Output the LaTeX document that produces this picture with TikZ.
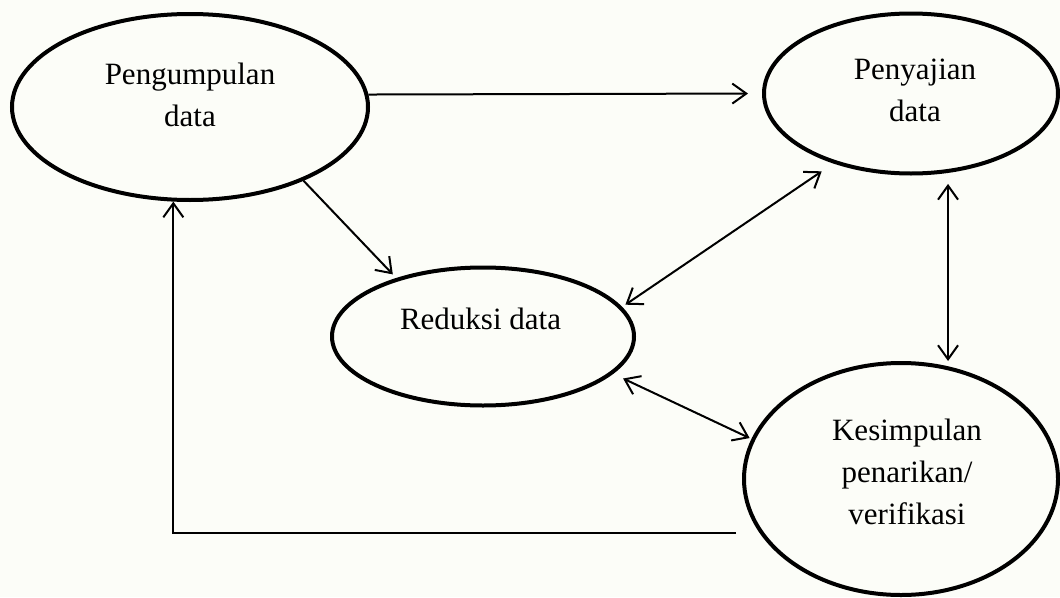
\documentclass[tikz,border=0pt]{standalone}
\usepackage{fontspec}
\setmainfont{Liberation Serif}
\usetikzlibrary{arrows.meta,shapes.geometric,calc}
\definecolor{bgc}{RGB}{252,253,248}
\begin{document}
\begin{tikzpicture}[x=1pt,y=-1pt,
  ell/.style={draw=black,ellipse,line width=4pt,inner sep=0pt},
  lbl/.style={align=center,inner sep=0pt,font=\fontsize{31}{42}\selectfont},
  tip/.style={Straight Barb[length=14pt,width=20pt]},
  arr/.style={line width=2pt,-{Straight Barb[length=14pt,width=20pt]}},
  darr/.style={line width=2pt,{Straight Barb[length=14pt,width=20pt]}-{Straight Barb[length=14pt,width=20pt]}}]
\useasboundingbox (0,0) rectangle (1060,597);
\fill[bgc] (0,0) rectangle (1060,597);
% ellipses
\node[ell,minimum width=356pt,minimum height=186pt] (peng) at (190,107) {};
\node[ell,minimum width=294pt,minimum height=160pt] (pen) at (911,93.5) {};
\node[ell,minimum width=302pt,minimum height=138pt] (red) at (483,336.5) {};
\node[ell,minimum width=314pt,minimum height=232pt] (kes) at (901,479) {};
% texts
\node[lbl] (tpeng) at (190,94.5) {Pengumpulan\\data};
\node[lbl] (tpen) at (915,90.5) {Penyajian\\data};
\node[lbl] (tred) at (480.5,318.7) {Reduksi data};
\node[lbl] (tkes) at (907,472) {Kesimpulan\\penarikan/\\verifikasi};
% connectors
\draw[arr,shorten >=14pt] (peng.4) -- (pen.west);
\draw[arr,shorten >=5pt] (peng.-33) -- (red.146);
\draw[darr,shorten <=4pt,shorten >=14pt] (red.12.5) -- (pen.222);
\draw[darr,shorten <=11pt] (pen.295.6) -- (kes.north -| pen.295.6);
\draw[darr,shorten <=11pt,shorten >=2pt] (red.344) -- (kes.165);
\coordinate (fb) at (736,533);
\draw[arr] (fb) -| (peng.260);
\end{tikzpicture}
\end{document}
